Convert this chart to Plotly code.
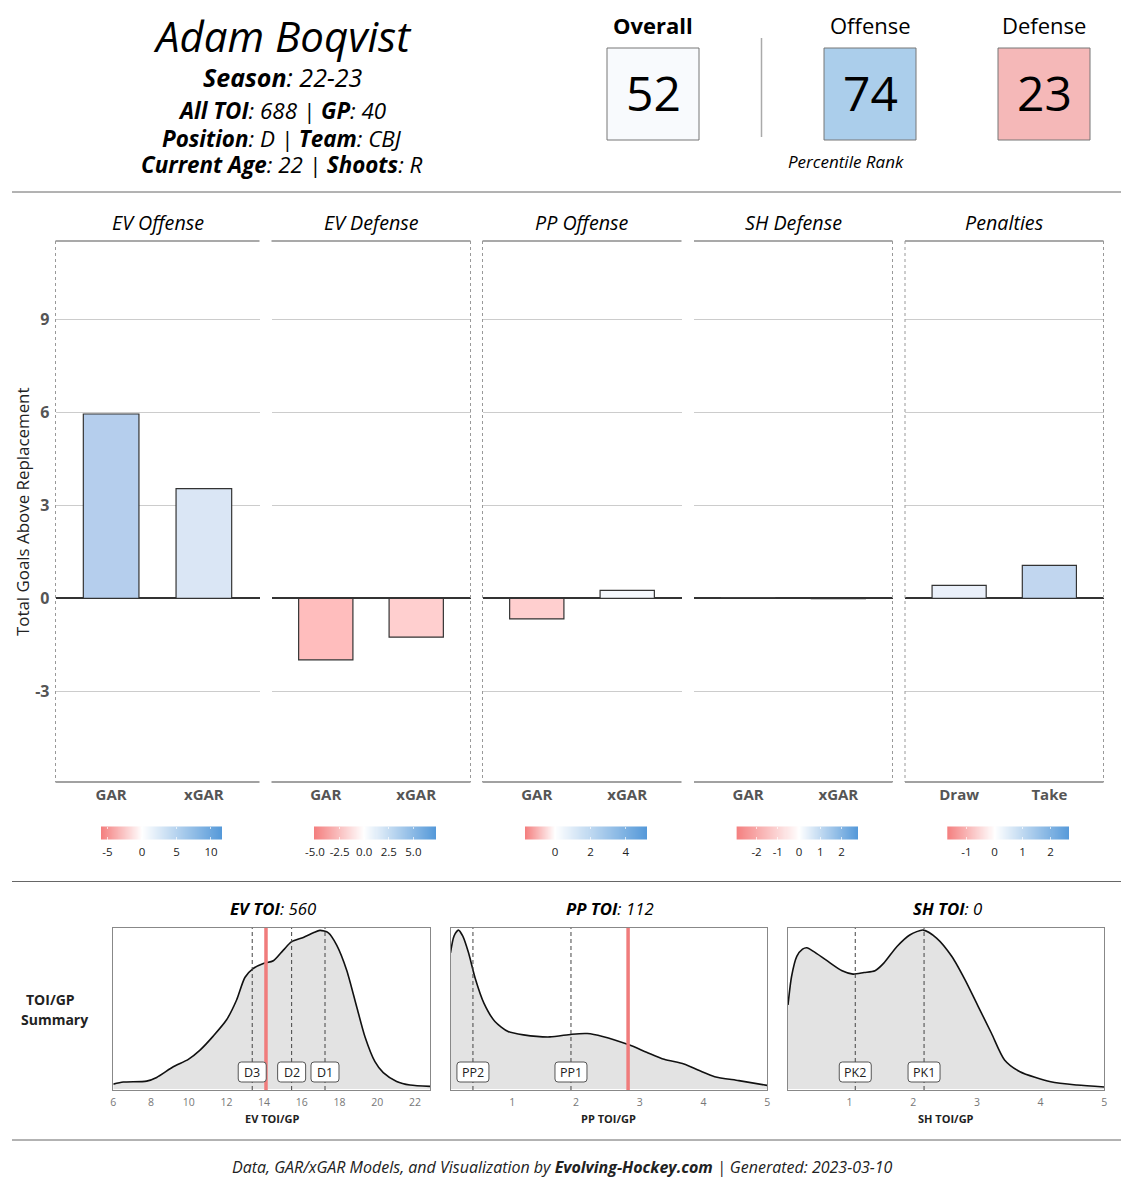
import plotly.graph_objects as go

W = 1129
H = 1200
FONT = "Open Sans"
RED = "#F47F7F"
BLUE = "#5599D9"

# pixel position -> paper coords
def px(x):
    return x / W

def py(y):
    return 1 - y / H

fig = go.Figure()
shapes = []
notes = []

def note(x, y, text, size, color="#000000", **kw):
    notes.append(dict(x=px(x), y=py(y), xref="paper", yref="paper", text=text, showarrow=False,
                      xanchor="center", yanchor="middle",
                      font=dict(family=FONT, size=size, color=color), **kw))

def pline(x0, y0, x1, y1, color="#666666", width=1, dash="solid"):
    shapes.append(dict(type="line", xref="paper", yref="paper", x0=px(x0), y0=py(y0), x1=px(x1), y1=py(y1),
                       line=dict(color=color, width=width, dash=dash)))

# header text
note(282, 35, "<i>Adam Boqvist</i>", 42)
note(282, 77, "<b><i>Season</i></b><i>: 22-23</i>", 25)
note(282, 110, "<b><i>All TOI</i></b><i>: 688 | </i><b><i>GP</i></b><i>: 40</i>", 22.4)
note(282, 138, "<b><i>Position</i></b><i>: D | </i><b><i>Team</i></b><i>: CBJ</i>", 22.4)
note(282, 165, "<b><i>Current Age</i></b><i>: 22 | </i><b><i>Shoots</i></b><i>: R</i>", 22.4)

# percentile boxes
scores = [
    ("<b>Overall</b>", 607, 52, "#F8FAFD"),
    ("Offense", 824, 74, "#ABCEEB"),
    ("Defense", 998, 23, "#F5B8B8"),
]
for label, x0, val, col in scores:
    shapes.append(dict(type="rect", xref="paper", yref="paper", x0=px(x0), x1=px(x0 + 92), y0=py(48), y1=py(140),
                       fillcolor=col, line=dict(color="#777777", width=1)))
    note(x0 + 46, 25, label, 22)
    note(x0 + 46, 92, str(val), 48)
note(846, 161, "<i>Percentile Rank</i>", 17)
pline(761.5, 38, 761.5, 137, "#AAAAAA", 1.5)

pline(12, 192, 1121, 192)
pline(12, 881.5, 1121, 881.5)
pline(12, 1140, 1121, 1140)

# GAR panels: title, x0, x1, left dash, right dash, labels, values, bar colors, colorbar range/ticks
panels = [
    dict(title="EV Offense", x0=55.5, x1=259.5, dl=True, dr=False, cats=["GAR", "xGAR"], vals=[5.95, 3.54],
         cols=["#B5CEED", "#DAE6F5"], cb=(101, 222), rng=(-5.94, 11.6), ticks=[-5, 0, 5, 10],
         labs=["-5", "0", "5", "10"]),
    dict(title="EV Defense", x0=271.5, x1=470.5, dl=False, dr=True, cats=["GAR", "xGAR"], vals=[-1.98, -1.25],
         cols=["#FFBDBD", "#FFCFCF"], cb=(314, 436), rng=(-5.1, 7.3), ticks=[-5, -2.5, 0, 2.5, 5],
         labs=["-5.0", "-2.5", "0.0", "2.5", "5.0"]),
    dict(title="PP Offense", x0=482.5, x1=681.5, dl=True, dr=False, cats=["GAR", "xGAR"], vals=[-0.66, 0.26],
         cols=["#FFCFCF", "#F5F8FD"], cb=(525, 647), rng=(-1.7, 5.2), ticks=[0, 2, 4], labs=["0", "2", "4"]),
    dict(title="SH Defense", x0=694, x1=892.5, dl=False, dr=True, cats=["GAR", "xGAR"], vals=[0.02, -0.01],
         cols=["#FAFBFE", "#FFFAFA"], cb=(736.6, 858), rng=(-2.94, 2.78), ticks=[-2, -1, 0, 1, 2],
         labs=["-2", "-1", "0", "1", "2"]),
    dict(title="Penalties", x0=905, x1=1103.5, dl=True, dr=True, cats=["Draw", "Take"], vals=[0.42, 1.07],
         cols=["#EAF0FA", "#C1D6EF"], cb=(947.3, 1069), rng=(-1.68, 2.66), ticks=[-1, 0, 1, 2],
         labs=["-1", "0", "1", "2"]),
]

TOP = 241
BOT = 782
layout_axes = {}
n = 1
for i, p in enumerate(panels):
    xa = f"xaxis{n}" if n > 1 else "xaxis"
    ya = f"yaxis{n}" if n > 1 else "yaxis"
    sx = f"x{n}" if n > 1 else "x"
    sy = f"y{n}" if n > 1 else "y"
    lo, hi = p["rng"]
    mid = -lo / (hi - lo)
    scale = [[0, RED], [mid, "#FFFFFF"], [1, BLUE]]
    fig.add_trace(go.Bar(x=p["cats"], y=p["vals"], width=0.6, xaxis=sx, yaxis=sy, showlegend=False,
                         marker=dict(color=p["cols"], line=dict(color="#333333", width=1.2))))
    layout_axes[xa] = dict(domain=[px(p["x0"]), px(p["x1"])], range=[-0.6, 1.6], anchor=sy, type="category",
                           showgrid=False, zeroline=False, ticks="", showline=False, ticklabelstandoff=2,
                           tickfont=dict(family=FONT, size=15, color="#555555", weight="bold"))
    layout_axes[ya] = dict(domain=[py(BOT), py(TOP)], range=[-5.92, 11.53], anchor=sx, tickvals=[-3, 0, 3, 6, 9],
                           ticktext=["-3", "0", "3", "6", "9"], ticklabelstandoff=5,
                           showgrid=True, gridcolor="#CCCCCC", gridwidth=1, zeroline=True, zerolinecolor="#333333",
                           zerolinewidth=1.5, showline=False, ticks="", showticklabels=(i == 0), layer="below traces",
                           tickfont=dict(family=FONT, size=16, color="#555555", weight="bold"))
    pline(p["x0"], TOP, p["x1"], TOP, "#555555", 1.2)
    pline(p["x0"], BOT, p["x1"], BOT, "#444444", 1.2)
    if p["dl"]:
        pline(p["x0"], TOP, p["x0"], BOT, "#999999", 1, "3px,3px")
    if p["dr"]:
        pline(p["x1"], TOP, p["x1"], BOT, "#999999", 1, "3px,3px")
    note((p["x0"] + p["x1"]) / 2, 223, f"<i>{p['title']}</i>", 19.7)
    n += 1

    # legend bar for the panel
    xa = f"xaxis{n}"
    ya = f"yaxis{n}"
    sx = f"x{n}"
    sy = f"y{n}"
    stops = [lo + (hi - lo) * k / 120 for k in range(121)]
    fig.add_trace(go.Heatmap(x=stops, y=[0, 1], z=[stops, stops], colorscale=scale, zmin=lo, zmax=hi, showscale=False,
                             xaxis=sx, yaxis=sy, hoverinfo="skip"))
    layout_axes[xa] = dict(domain=[px(p["cb"][0]), px(p["cb"][1])], range=[lo, hi], anchor=sy, tickvals=p["ticks"],
                           ticktext=p["labs"], ticks="inside", ticklen=2.5, tickcolor="rgba(255,255,255,0.7)",
                           tickwidth=1, mirror="ticks", showgrid=False, zeroline=False, showline=False,
                           ticklabelstandoff=4, tickfont=dict(family=FONT, size=11.5, color="#222222"))
    layout_axes[ya] = dict(domain=[py(839.5), py(826.5)], range=[0, 1], anchor=sx, visible=False)
    n += 1

note(22, 512, "Total Goals Above Replacement", 16.9, "#222222", textangle=-90)

# TOI density panels, curves
toi = [
    dict(x0=113.3, x1=430, rng=[6, 22.8], ticks=[6, 8, 10, 12, 14, 16, 18, 20, 22],
         title="<b><i>EV TOI</i></b><i>: 560</i>", xlab="EV TOI/GP", red=14.1,
         marks=[("D3", 13.37), ("D2", 15.46), ("D1", 17.23)],
         x=[6.0, 6.53, 7.77, 8.3, 9.18, 9.98, 10.6, 11.3, 12.0, 12.54, 12.98, 13.43, 13.96, 14.49, 15.02, 15.46,
            16.08, 16.61, 16.96, 17.41, 17.85, 18.38, 18.91, 19.35, 19.88, 20.32, 21.03, 21.74, 22.8],
         y=[.031, .044, .05, .073, .14, .187, .245, .333, .434, .56, .702, .759, .79, .807, .874, .927,
            .954, .983, .998, .983, .906, .748, .518, .329, .172, .103, .048, .025, .017]),
    dict(x0=450.5, x1=767.3, rng=[0.03, 5], ticks=[1, 2, 3, 4, 5],
         title="<b><i>PP TOI</i></b><i>: 112</i>", xlab="PP TOI/GP", red=2.816,
         marks=[("PP2", .382), ("PP1", 1.92)],
         x=[.03, .085, .154, .223, .313, .416, .554, .727, .933, 1.175, 1.589, 1.934, 2.175, 2.416, 2.83, 3.106,
            3.382, 3.692, 3.934, 4.175, 4.554, 4.996],
         y=[.857, .962, 1.0, .962, .857, .699, .541, .425, .362, .341, .328, .345, .349, .331, .278, .232,
            .187, .158, .116, .078, .053, .023]),
    dict(x0=788, x1=1104.3, rng=[0.034, 5], ticks=[1, 2, 3, 4, 5],
         title="<b><i>SH TOI</i></b><i>: 0</i>", xlab="SH TOI/GP", red=None,
         marks=[("PK2", 1.09), ("PK1", 2.17)],
         x=[.034, .09, .172, .262, .331, .434, .641, .883, 1.055, 1.228, 1.4, 1.538, 1.745, 1.952, 2.159, 2.366,
            2.607, 2.814, 3.021, 3.228, 3.434, 3.676, 4.159, 4.572, 5.0],
         y=[.529, .708, .834, .88, .889, .866, .809, .744, .723, .733, .744, .792, .897, .971, 1.0, .95,
            .834, .687, .519, .351, .183, .109, .046, .025, .013]),
]
T_TOP = 927.7
T_BOT = 1090
T_RNG = [-0.006, 1.015]
for t in toi:
    xa = f"xaxis{n}"
    ya = f"yaxis{n}"
    sx = f"x{n}"
    sy = f"y{n}"
    fig.add_trace(go.Scatter(x=t["x"], y=t["y"], mode="lines", fill="tozeroy", fillcolor="#E3E3E3", xaxis=sx, yaxis=sy,
                             showlegend=False, line=dict(color="#111111", width=1.6, shape="spline", smoothing=0.7)))
    layout_axes[xa] = dict(domain=[px(t["x0"]), px(t["x1"])], range=t["rng"], anchor=sy, tickvals=t["ticks"],
                           showgrid=False, zeroline=False, ticks="", showline=True, linecolor="#888888", linewidth=1,
                           mirror=True, ticklabelstandoff=2,
                           tickfont=dict(family=FONT, size=10.5, color="#777777"))
    layout_axes[ya] = dict(domain=[py(T_BOT), py(T_TOP)], range=T_RNG, anchor=sx, showgrid=False, zeroline=False,
                           showticklabels=False, ticks="", showline=True, linecolor="#888888", linewidth=1, mirror=True)
    for lab, v in t["marks"]:
        shapes.append(dict(type="line", xref=sx, yref=sy, x0=v, x1=v, y0=T_RNG[0], y1=T_RNG[1],
                           line=dict(color="#444444", width=1, dash="4px,3px")))
    if t["red"] is not None:
        shapes.append(dict(type="line", xref=sx, yref=sy, x0=t["red"], x1=t["red"], y0=T_RNG[0], y1=T_RNG[1],
                           line=dict(color="#F07C7C", width=3.5)))
    # rounded label boxes
    for lab, v in t["marks"]:
        cx = t["x0"] + (v - t["rng"][0]) / (t["rng"][1] - t["rng"][0]) * (t["x1"] - t["x0"])
        hw = 14 if lab[0] == "D" else 16
        cy = 1072
        hh = 10
        r = 3
        l, rt, tp, bt = px(cx - hw), px(cx + hw), py(cy - hh), py(cy + hh)
        rx, ry = r / W, r / H
        path = (f"M {l + rx} {bt} L {rt - rx} {bt} Q {rt} {bt} {rt} {bt + ry} L {rt} {tp - ry} Q {rt} {tp} {rt - rx} {tp} "
                f"L {l + rx} {tp} Q {l} {tp} {l} {tp - ry} L {l} {bt + ry} Q {l} {bt} {l + rx} {bt} Z")
        shapes.append(dict(type="path", xref="paper", yref="paper", path=path, fillcolor="#FFFFFF",
                           line=dict(color="#555555", width=1)))
        note(cx, cy, lab, 12.5, "#222222")
    mid = (t["x0"] + t["x1"]) / 2
    note(mid + 1, 909, t["title"], 16.8)
    note(mid, 1118, f"<b>{t['xlab']}</b>", 11, "#222222")
    n += 1

note(51, 999, "<b>TOI/GP</b>", 14, "#222222")
note(54.5, 1019, "<b>Summary</b>", 14, "#222222")

note(562, 1167,
     "<i>Data, GAR/xGAR Models, and Visualization by </i><b><i>Evolving-Hockey.com</i></b><i> | Generated: 2023-03-10</i>",
     16, "#222222")

fig.update_layout(width=W, height=H, margin=dict(l=0, r=0, t=0, b=0, autoexpand=False), plot_bgcolor="#FFFFFF",
                  paper_bgcolor="#FFFFFF", showlegend=False, shapes=shapes, annotations=notes, font=dict(family=FONT),
                  **layout_axes)

# the page's default body margin would shift everything by 8px
fig.write_html("out.html", config=dict(displayModeBar=False), post_script="document.body.style.margin = '0';")
